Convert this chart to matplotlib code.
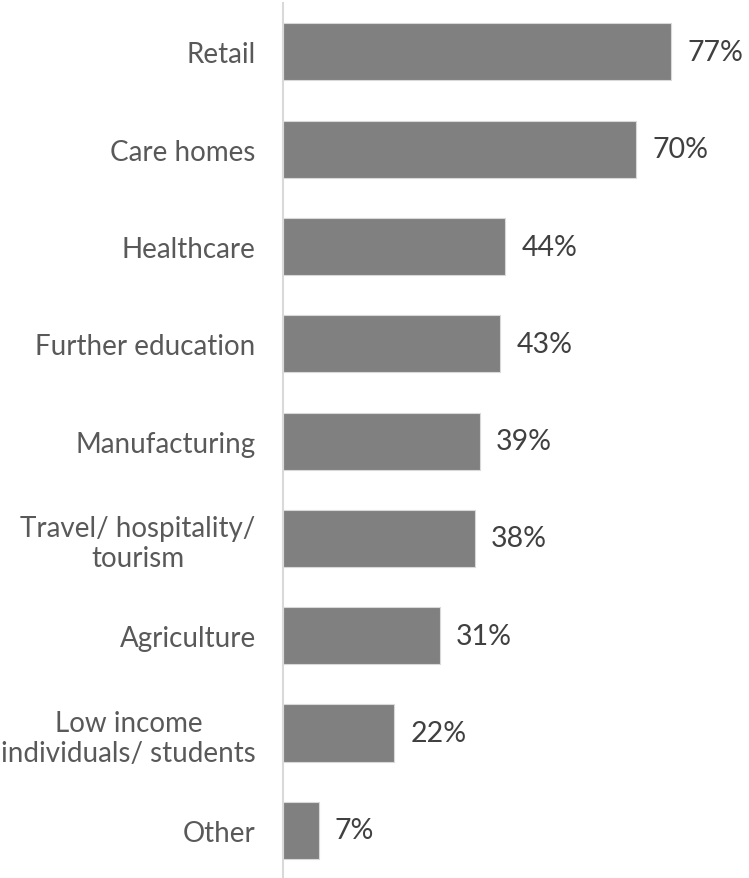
import matplotlib.pyplot as plt
import numpy as np

# Sectors and share of respondents
sectors = ['Retail', 'Care homes', 'Healthcare', 'Further education', 'Manufacturing',
           'Travel/ hospitality/\ntourism', 'Agriculture',
           'Low income\nindividuals/ students', 'Other']
shares = [77, 70, 44, 43, 39, 38, 31, 22, 7]

plt.rcParams['font.family'] = ['Lato', 'DejaVu Sans']

fig = plt.figure(figsize=(7.49, 8.79), dpi=100)
ax = fig.add_axes([0.3785, -0.0012, 0.6215, 0.9964])

y = np.arange(len(sectors))
ax.barh(y, shares, height=0.588, color='#808080', edgecolor='#d9d9d9', linewidth=0.8)

for yi, v in zip(y, shares):
    ax.text(v + 3.2, yi, f'{v}%', va='center', ha='left', fontsize=20.5, color='#404040')

ax.set_yticks(y)
ax.set_yticklabels(sectors, fontsize=20, color='#595959', linespacing=1.2)
for lab in ax.get_yticklabels():
    lab.set_multialignment('center')
ax.tick_params(axis='y', length=0, pad=20)
ax.set_ylim(len(sectors) - 0.5, -0.5)
ax.set_xlim(0, 92.4)
ax.set_xticks([])

for s in ['top', 'right', 'bottom']:
    ax.spines[s].set_visible(False)
ax.spines['left'].set_color('#d9d9d9')
ax.spines['left'].set_linewidth(1.5)

fig.savefig('out.png', dpi=100)
